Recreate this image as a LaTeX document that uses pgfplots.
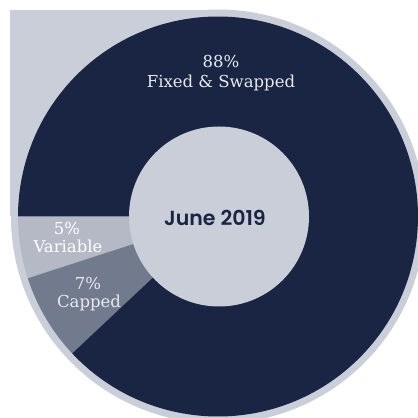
\documentclass[border=0pt]{standalone}
\usepackage{pgfplots}
\pgfplotsset{compat=1.18}
\usepackage{pgfplotstable}
\usepackage{fontspec}
\setmainfont{DejaVu Serif}
\newfontfamily\labfont{DejaVu Serif}
\newfontfamily\titlefont{Poppins}[UprightFont=* SemiBold]
\definecolor{navy}{RGB}{26,37,68}
\definecolor{bgray}{RGB}{201,206,217}
\definecolor{vargray}{RGB}{181,185,198}
\definecolor{capgray}{RGB}{114,122,142}
\definecolor{labtext}{RGB}{232,234,240}
% slice shares in percent, drawn counter-clockwise starting at 180 degrees
\pgfplotstableread{
slice pct
Variable 5
Capped 7
Fixed 88
}\slices
\begin{document}
\begin{tikzpicture}
\pgfplotstablegetelem{0}{pct}\of\slices \let\pv\pgfplotsretval
\pgfplotstablegetelem{1}{pct}\of\slices \let\pc\pgfplotsretval
\pgfplotstablegetelem{2}{pct}\of\slices \let\pf\pgfplotsretval
\pgfmathsetmacro{\aA}{180}
\pgfmathsetmacro{\aB}{\aA+3.6*\pv}
\pgfmathsetmacro{\aC}{\aB+3.6*\pc}
\pgfmathsetmacro{\aD}{\aC+3.6*\pf}
\begin{axis}[
  hide axis, x=1pt, y=1pt,
  xmin=0, xmax=418, ymin=0, ymax=418,
  clip=true, anchor=origin, at={(0,0)},
]
% background shape
\fill[bgray] (axis cs:10,201.5) rectangle (axis cs:218,408);
\fill[bgray] (axis cs:218,201.5) circle[radius=207pt];
% slices
\fill[vargray] (axis cs:218,201.5) -- ++(\aA:200pt) arc[start angle=\aA, end angle=\aB, radius=200pt] -- cycle;
\fill[capgray] (axis cs:218,201.5) -- ++(\aB:200pt) arc[start angle=\aB, end angle=\aC, radius=200pt] -- cycle;
\fill[navy] (axis cs:218,201.5) -- ++(\aC:200pt) arc[start angle=\aC, end angle=\aD, radius=200pt] -- cycle;
% hole
\fill[bgray] (axis cs:219,201.5) circle[radius=90pt];
% labels
\node[anchor=base, text=labtext, font=\labfont\fontsize{16.5}{19}\selectfont] at (axis cs:221,350) {88\%};
\node[anchor=base, text=labtext, font=\labfont\fontsize{16.5}{19}\selectfont] at (axis cs:221,330) {Fixed \& Swapped};
\node[anchor=base, text=white, font=\labfont\fontsize{16.5}{19}\selectfont] at (axis cs:67,183) {5\%};
\node[anchor=base, text=white, font=\labfont\fontsize{16.5}{19}\selectfont] at (axis cs:68,165) {Variable};
\node[anchor=base, text=labtext, font=\labfont\fontsize{16.5}{19}\selectfont] at (axis cs:88,128) {7\%};
\node[anchor=base, text=labtext, font=\labfont\fontsize{16.5}{19}\selectfont] at (axis cs:89,110) {Capped};
\node[anchor=base, text=navy, font=\titlefont\fontsize{20.5}{24}\selectfont] at (axis cs:215,192) {June 2019};
\end{axis}
\pgfresetboundingbox
\path[use as bounding box] (0,0) rectangle (418pt,418pt);
\end{tikzpicture}
\end{document}
